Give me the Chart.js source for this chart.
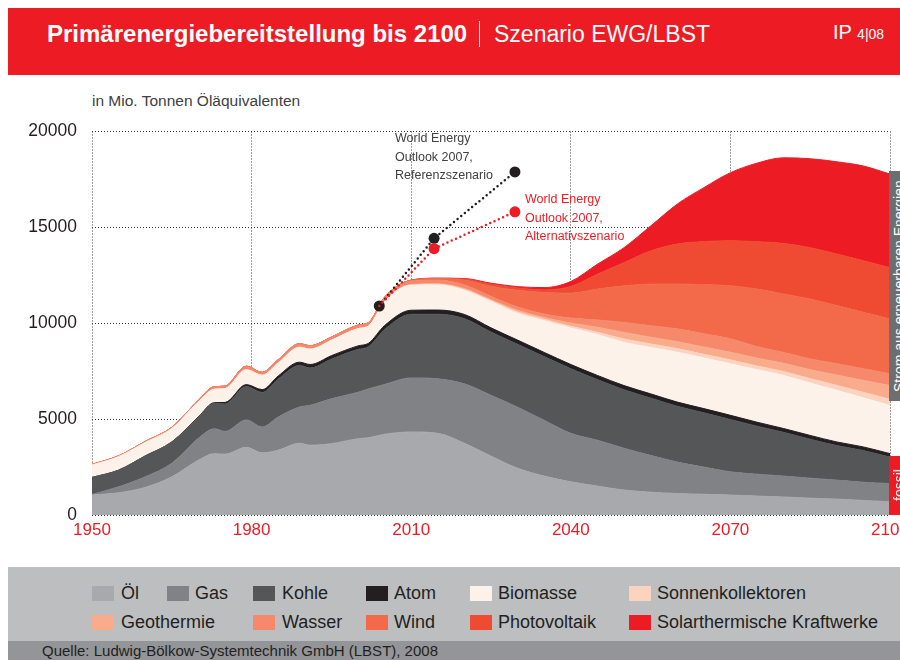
<!DOCTYPE html>
<html lang="de">
<head>
<meta charset="utf-8">
<title>Primärenergiebereitstellung bis 2100</title>
<script src="https://cdn.jsdelivr.net/npm/chart.js@4.4.1/dist/chart.umd.min.js"></script>
<style>
  html, body { margin: 0; padding: 0; }
  body { width: 900px; height: 660px; position: relative; overflow: hidden; background: #fff;
         font-family: "Liberation Sans", Arial, Helvetica, sans-serif; color: #231f20; }
  .abs { position: absolute; }
  #hdr { left: 8px; top: 8px; width: 892px; height: 67px; background: #ed1c24; color: #fff; }
  #hdr .t { position: absolute; top: 12px; font-size: 24px; line-height: 28px; white-space: nowrap; }
  #hdr .sep { position: absolute; left: 471px; top: 13px; width: 1px; height: 26px; background: #fff; }
  #hdr .ip { position: absolute; left: 825px; top: 13px; font-size: 20px; white-space: nowrap; }
  #unit { left: 92px; top: 92px; font-size: 15.5px; color: #414042; }
  #chart { left: 0; top: 106px; }
  .note { font-size: 12.5px; line-height: 18.5px; white-space: nowrap; }
  .bar { overflow: hidden; }
  .bar div { position: absolute; left: 3px; top: 0; height: 100%; writing-mode: vertical-rl; transform: rotate(180deg);
             color: #fff; font-size: 14px; line-height: 15px; text-align: center; white-space: nowrap; }
  #legend { left: 8px; top: 567px; width: 892px; height: 74px; background: #bcbec0; }
  #src { left: 8px; top: 641px; width: 892px; height: 19px; background: #939598; font-size: 15px; line-height: 20px; color: #231f20; }
  .li { position: absolute; font-size: 18px; line-height: 20px; white-space: nowrap; color: #231f20; }
  .sw { position: absolute; width: 22px; height: 15px; }
</style>
</head>
<body>

<div id="hdr" class="abs">
  <div class="t" style="left:39px; font-weight:bold;">Primärenergiebereitstellung bis 2100</div>
  <div class="sep"></div>
  <div class="t" style="left:486px; font-size:23px;">Szenario EWG/LBST</div>
  <div class="ip">IP <span style="font-size:14px">4|08</span></div>
</div>

<div id="unit" class="abs">in Mio. Tonnen Öläquivalenten</div>

<canvas id="chart" class="abs" width="930" height="449"></canvas>

<div class="abs note" style="left:395px; top:129px; color:#414042;">World Energy<br>Outlook 2007,<br>Referenzszenario</div>
<div class="abs note" style="left:525px; top:190px; color:#ed1c24;">World Energy<br>Outlook 2007,<br>Alternativszenario</div>

<div class="abs bar" style="left:889px; top:171px; width:11px; height:230px; background:#6d6e71;"><div style="width:15px">Strom aus erneuerbaren Energien</div></div>
<div class="abs bar" style="left:889px; top:456px; width:11px; height:59px; background:#ed1c24;"><div style="width:15px">fossil</div></div>

<div id="legend" class="abs"></div>
<div id="src" class="abs"><span style="position:absolute; left:34px;">Quelle: Ludwig-Bölkow-Systemtechnik GmbH (LBST), 2008</span></div>

<script>
  /* ================== DATEN ================== */

  const jahre = [1950, 1955, 1960, 1965, 1970, 1973, 1975, 1979, 1982, 1985, 1989, 1991, 1995, 2000, 2002, 2005, 2010,
                 2015, 2020, 2025, 2030, 2035, 2040, 2045, 2050, 2055, 2060, 2065, 2070, 2075, 2080, 2085, 2090, 2095, 2100];

  // Mio. t Öläquivalent, von unten nach oben gestapelt
  const oel     = [1040, 1160, 1440, 1990, 2860, 3200, 3170, 3530, 3240, 3380, 3740, 3640, 3720, 3980, 4030, 4210, 4330,
                   4260, 3740, 3070, 2440, 2030, 1730, 1510, 1300, 1190, 1120, 1080, 1040, 990, 940, 880, 830, 760, 690];
  const gas     = [30, 310, 550, 710, 1140, 1300, 1190, 1430, 1350, 1730, 1890, 2080, 2340, 2420, 2550, 2600, 2820,
                   2840, 3100, 3170, 3180, 2910, 2530, 2390, 2180, 1920, 1640, 1420, 1210, 1140, 1090, 1040, 990, 950, 950];
  const kohle   = [890, 870, 1090, 1110, 1090, 1310, 1430, 1740, 1800, 1980, 2170, 1950, 2070, 2240, 2200, 2860, 3320,
                   3370, 3400, 3300, 3280, 3320, 3370, 3160, 3050, 2990, 2910, 2830, 2730, 2500, 2280, 2030, 1800, 1650, 1380];
  const atom    = [0, 0, 0, 0, 30, 50, 80, 100, 150, 160, 170, 180, 180, 180, 180, 210, 210,
                   220, 220, 220, 220, 220, 220, 220, 220, 220, 220, 220, 220, 210, 200, 200, 190, 190, 180];
  const biomasse = [640, 700, 700, 700, 780, 700, 720, 780, 750, 680, 780, 800, 800, 900, 900, 1250, 1300,
                   1310, 1250, 1370, 1390, 1650, 1900, 2130, 2250, 2420, 2600, 2640, 2690, 2740, 2770, 2730, 2690, 2560, 2510];
  const sonnenkollektoren = [0, 0, 0, 0, 0, 0, 0, 0, 0, 0, 0, 0, 0, 0, 0, 10, 20,
                   30, 50, 50, 80, 80, 90, 120, 180, 180, 190, 190, 200, 190, 200, 230, 260, 290, 320];
  const geothermie = [0, 0, 0, 0, 0, 0, 0, 0, 0, 0, 0, 0, 0, 0, 0, 10, 20,
                   30, 50, 50, 90, 90, 170, 260, 340, 350, 360, 380, 400, 410, 430, 470, 540, 620, 720];
  const wasser  = [40, 45, 55, 65, 80, 130, 130, 180, 150, 170, 180, 180, 170, 180, 180, 200, 190,
                   190, 190, 170, 170, 180, 260, 380, 520, 600, 670, 690, 700, 600, 570, 560, 590, 610, 610];
  const wind    = [0, 0, 0, 0, 0, 0, 0, 0, 0, 0, 0, 0, 0, 0, 0, 10, 30,
                   80, 250, 520, 870, 1120, 1300, 1610, 1910, 2170, 2340, 2560, 2770, 3000, 3050, 3120, 3030, 2940, 2860];
  const photovoltaik = [0, 0, 0, 0, 0, 0, 0, 0, 0, 0, 0, 0, 0, 0, 0, 0, 10,
                   15, 60, 110, 120, 140, 350, 780, 1210, 1730, 2080, 2250, 2340, 2470, 2630, 2680, 2690, 2690, 2680];
  const solarthermie = [0, 0, 0, 0, 0, 0, 0, 0, 0, 0, 0, 0, 0, 0, 0, 0, 0,
                   5, 25, 60, 70, 120, 260, 520, 780, 1300, 2080, 2810, 3550, 4100, 4470, 4640, 4810, 4940, 4880];

  // World Energy Outlook 2007
  const weoJahre = [2004, 2014.3, 2029.5];
  const weoReferenz = [10900, 14430, 17890];
  const weoAlternativ = [10900, 13890, 15810];

  const xTicks = [1950, 1980, 2010, 2040, 2070, 2100];
  const yTicks = [0, 5000, 10000, 15000, 20000];

  const schichten = [
    ['Öl', oel, '#a7a9ac'],
    ['Gas', gas, '#808285'],
    ['Kohle', kohle, '#545658'],
    ['Atom', atom, '#231f20'],
    ['Biomasse', biomasse, '#fdf2ea'],
    ['Sonnenkollektoren', sonnenkollektoren, '#fcd3bf'],
    ['Geothermie', geothermie, '#f9ac8b'],
    ['Wasser', wasser, '#f6896b'],
    ['Wind', wind, '#f26a4a'],
    ['Photovoltaik', photovoltaik, '#ef4a32'],
    ['Solarthermische Kraftwerke', solarthermie, '#ed1c24']
  ];

  /* ================== LEGENDE ================== */

  const legendePos = [
    [0, 92, 121], [0, 167, 195], [0, 253, 282], [0, 366, 394], [0, 470, 498], [0, 629, 657],
    [1, 92, 121], [1, 253, 282], [1, 366, 394], [1, 470, 498], [1, 629, 657]
  ];
  const legende = document.getElementById('legend');
  schichten.forEach(([name, , farbe], i) => {
    const [row, sx, tx] = legendePos[i];
    const top = row === 0 ? 19 : 48;
    const sw = document.createElement('div');
    sw.className = 'sw';
    sw.style.cssText = `left:${sx - 8}px; top:${top}px; background:${farbe};`;
    const tt = document.createElement('div');
    tt.className = 'li';
    tt.style.cssText = `left:${tx - 8}px; top:${top - 3}px;`;
    tt.textContent = name;
    legende.append(sw, tt);
  });

  /* ================== DIAGRAMM ================== */

  const punkte = (xs, ys) => xs.map((x, i) => ({ x, y: ys[i] }));

  const datasets = schichten.map(([name, werte, farbe], i) => ({
    label: name,
    data: punkte(jahre, werte),
    backgroundColor: farbe,
    borderColor: farbe,
    borderWidth: 1,
    fill: i === 0 ? 'origin' : '-1',
    pointRadius: 0,
    cubicInterpolationMode: 'monotone'
  }));

  datasets.push({
    label: 'WEO 2007 Referenzszenario',
    data: punkte(weoJahre, weoReferenz),
    stack: 'ref',
    order: -1,
    fill: false,
    borderColor: '#231f20',
    borderWidth: 2.5,
    borderDash: [0, 4.7],
    borderCapStyle: 'round',
    pointRadius: 5.5,
    pointBorderWidth: 0,
    pointBackgroundColor: '#231f20'
  }, {
    label: 'WEO 2007 Alternativszenario',
    data: punkte(weoJahre, weoAlternativ),
    stack: 'alt',
    order: -2,
    fill: false,
    borderColor: '#ed1c24',
    borderWidth: 2.5,
    borderDash: [0, 4.7],
    borderCapStyle: 'round',
    pointRadius: [0, 5.5, 5.5],
    pointBorderWidth: 0,
    pointBackgroundColor: '#ed1c24'
  });

  const gitter = { color: '#3a3a3a', lineWidth: 1, drawTicks: false };
  const rand = { display: false, dash: [1, 2] };

  new Chart(document.getElementById('chart'), {
    type: 'line',
    data: { datasets },
    options: {
      responsive: false,
      animation: false,
      devicePixelRatio: 1,
      layout: { padding: { top: 6, right: 40, left: 0, bottom: 0 } },
      plugins: { legend: { display: false }, tooltip: { enabled: false } },
      scales: {
        x: {
          type: 'linear', min: 1950, max: 2100, z: 1,
          afterBuildTicks: s => { s.ticks = xTicks.map(v => ({ value: v })); },
          afterFit: s => { s.height = 40; },
          grid: gitter, border: rand,
          ticks: { color: '#ed1c24', padding: 5, font: { size: 17, family: '"Liberation Sans", Arial' }, callback: v => String(v) }
        },
        y: {
          stacked: true, min: 0, max: 20000, z: 1,
          afterBuildTicks: s => { s.ticks = yTicks.map(v => ({ value: v })); },
          afterFit: s => { s.width = 92; },
          grid: gitter, border: rand,
          ticks: { color: '#231f20', padding: 15, font: { size: 17.5, family: '"Liberation Sans", Arial' }, callback: v => String(v) }
        }
      }
    }
  });
</script>
</body>
</html>
